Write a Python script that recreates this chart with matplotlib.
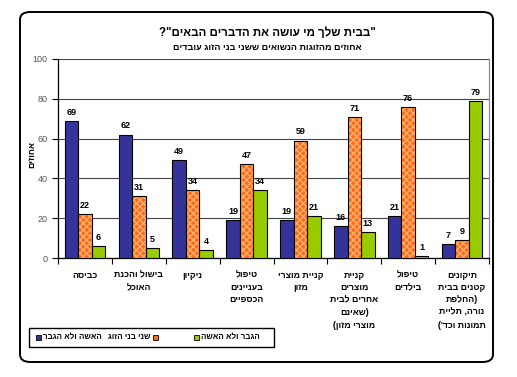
import numpy as np
import matplotlib
matplotlib.use("Agg")
import matplotlib.pyplot as plt
from matplotlib.patches import FancyBboxPatch, Rectangle

plt.rcParams['font.family'] = ['Liberation Sans', 'DejaVu Sans']


def heb(s):
    # matplotlib has no bidi support: lay the RTL text out by hand
    # (reverse it and mirror the brackets)
    return s[::-1].translate(str.maketrans("()", ")("))


# data
categories = [
    ["כביסה"],
    ["בישול והכנת", "האוכל"],
    ["ניקיון"],
    ["טיפול", "בעניינים", "הכספיים"],
    ["קניית מוצרי", "מזון"],
    ["קניית", "מוצרים", "אחרים לבית", "(שאינם", "מוצרי מזון)"],
    ["טיפול", "בילדים"],
    ["תיקונים", "קטנים בבית", "(החלפת", "נורה, תליית", "תמונות וכד')"],
]
woman_only = [69, 62, 49, 19, 19, 16, 21, 7]
both = [22, 31, 34, 47, 59, 71, 76, 9]
man_only = [6, 5, 4, 34, 21, 13, 1, 79]
series_names = ["האשה ולא הגבר", "שני בני הזוג", "הגבר ולא האשה"]

title = '"בבית שלך מי עושה את הדברים הבאים"?'
subtitle = "אחוזים מהזוגות הנשואים ששני בני הזוג עובדים"
ylabel = "אחוזים"

blue = "#333399"
orange = "#FF6A13"
green = "#99CC00"

fig = plt.figure(figsize=(5.17, 3.77), dpi=100)

# rounded outer frame
W, H = 517, 377
frame = FancyBboxPatch((20 / W, (H - 362) / H), 473 / W, 350 / H,
                       boxstyle="round,pad=0,rounding_size=0.02",
                       transform=fig.transFigure, fill=False,
                       edgecolor="black", linewidth=1.4)
fig.patches.append(frame)

fig.text(0.517, (H - 33) / H, heb(title), ha="center", va="center",
         fontsize=8.3, fontweight="bold")
fig.text(0.517, (H - 47) / H, heb(subtitle), ha="center", va="center",
         fontsize=6.5, fontweight="bold")

ax = fig.add_axes([58 / W, (H - 258) / H, 431 / W, 199 / H])
x = np.arange(len(categories))
w = 0.25

b1 = ax.bar(x - w, woman_only, w, color=blue, edgecolor="black", linewidth=0.8, zorder=3)
b2 = ax.bar(x, both, w, color=orange, edgecolor="#FFB070", hatch="xxxxx",
            linewidth=0, zorder=3)
ax.bar(x, both, w, fill=False, edgecolor="black", linewidth=0.8, zorder=4)
b3 = ax.bar(x + w, man_only, w, color=green, edgecolor="black", linewidth=0.8, zorder=3)

for bars in (b1, b2, b3):
    for rect in bars:
        v = rect.get_height()
        ax.annotate(f"{v:.0f}", (rect.get_x() + rect.get_width() / 2, v),
                    xytext=(0, 3), textcoords="offset points",
                    ha="center", va="bottom", fontsize=6.5, fontweight="bold")

ax.set_xlim(-0.5, len(categories) - 0.5)
ax.set_ylim(0, 100)
ax.set_yticks(np.arange(0, 101, 20))
ax.tick_params(axis="y", labelsize=6.5, labelcolor="#555555", length=4, width=0.8)
ax.yaxis.grid(True, color="#444444", linewidth=0.8, zorder=0)
ax.set_axisbelow(True)

# category separators as x ticks
ax.set_xticks(np.arange(-0.5, len(categories) + 0.5, 1))
ax.set_xticklabels([])
ax.tick_params(axis="x", length=4, width=0.8, direction="out")

for xi, lines in zip(x, categories):
    ax.annotate("\n".join(heb(l) for l in lines), (xi, 0), xytext=(0, -9),
                textcoords="offset points", ha="center", va="top",
                fontsize=6.3, fontweight="bold", linespacing=1.5,
                annotation_clip=False)

for s in ("left", "bottom"):
    ax.spines[s].set_color("black")
    ax.spines[s].set_linewidth(0.9)
ax.spines["top"].set_visible(False)
ax.spines["right"].set_color("#888888")
ax.spines["right"].set_linewidth(0.9)

fig.text(32 / W, (H - 155) / H, heb(ylabel), rotation=90, ha="center", va="center",
         fontsize=6.3, fontweight="bold")

# legend box drawn by hand to keep the original's marker placement
fig.patches.append(Rectangle((29 / W, (H - 347) / H), 245 / W, 19 / H,
                             transform=fig.transFigure, fill=False,
                             edgecolor="black", linewidth=1.0))
ly = (H - 337.5) / H
sq = 5
colors = [blue, orange, green]
sq_x = [36, 153, 194]
txt = [(43, "left"), (151, "right"), (201, "left")]
for c, sx, (tx, ha), name in zip(colors, sq_x, txt, series_names):
    fig.patches.append(Rectangle((sx / W, ly - sq / 2 / H), sq / W, sq / H,
                                 transform=fig.transFigure, facecolor=c,
                                 edgecolor="black", linewidth=0.6))
    fig.text(tx / W, ly, heb(name), ha=ha, va="center", fontsize=5.8,
             fontweight="bold")

fig.savefig("out.png", dpi=100)
